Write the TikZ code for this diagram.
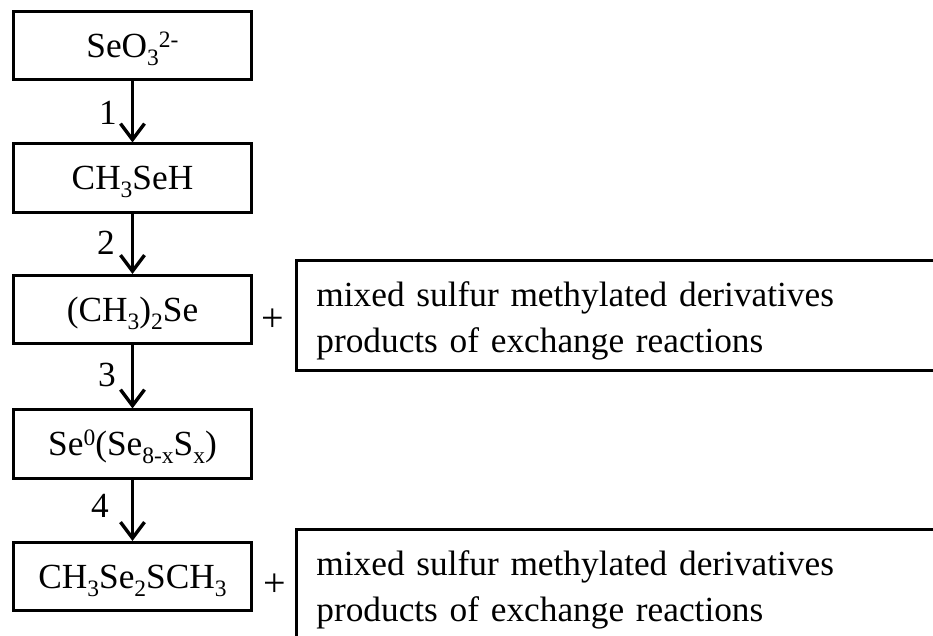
\documentclass[tikz,border=0pt]{standalone}
\usepackage{fontspec}
\setmainfont{Liberation Serif}
\usetikzlibrary{arrows.meta}
% chemical sub/superscripts in running text
\newcommand\chsub[1]{\raisebox{-8pt}{\fontsize{23.5}{23.5}\selectfont #1}}
\newcommand\chsup[1]{\raisebox{10pt}{\fontsize{23.5}{23.5}\selectfont #1}}
\begin{document}
\begin{tikzpicture}[x=1pt,y=-1pt,
  every node/.style={font=\fontsize{35.3}{46}\selectfont, inner sep=0pt},
  species/.style={draw, line width=2.8pt, minimum width=238.3pt, minimum height=68.3pt,
    text height=30pt, text depth=6.6pt},
  sidebox/.style={draw, line width=2.8pt, anchor=north west, align=left,
    text width=620pt, inner xsep=19.6pt, inner ysep=21.6pt,
    text height=24.1pt, text depth=42pt},
  flow/.style={line width=3.4pt, -{Straight Barb[length=16pt,width=24pt]}},
  stepnum/.style={inner sep=0pt},
  plus/.style={font=\fontsize{40}{40}\selectfont, inner sep=0pt}]
\useasboundingbox (0,0) rectangle (933,636);
\clip (0,0) rectangle (933,636);

% main reaction sequence
\node[species] (s1) at (132.5,45.5)  {SeO\chsub{3}\chsup{2-}};
\node[species] (s2) at (132.5,178)   {CH\chsub{3}SeH};
\node[species] (s3) at (132.5,309.5) {(CH\chsub{3})\chsub{2}Se};
\node[species] (s4) at (132.5,444)   {Se\chsup{0}(Se\chsub{8-x}S\chsub{x})};
\node[species] (s5) at (132.5,576.5) {CH\chsub{3}Se\chsub{2}SCH\chsub{3}};

\draw[flow] (s1) -- (s2);
\draw[flow] (s2) -- (s3);
\draw[flow] (s3) -- (s4);
\draw[flow] (s4) -- (s5);

% step numbers
\node[stepnum] (n1) at (108,113) {1};
\node[stepnum] (n2) at (106,243) {2};
\node[stepnum] (n3) at (107,375) {3};
\node[stepnum] (n4) at (100,506) {4};

% side products
\node[plus] (p1) at (273,320) {+};
\node[sidebox] (b1) at (295.4,259.4) {mixed sulfur methylated derivatives\\products of exchange reactions};
\node[plus] (p2) at (275,585) {+};
\node[sidebox] (b2) at (295.4,528.4) {mixed sulfur methylated derivatives\\products of exchange reactions};
\end{tikzpicture}
\end{document}
